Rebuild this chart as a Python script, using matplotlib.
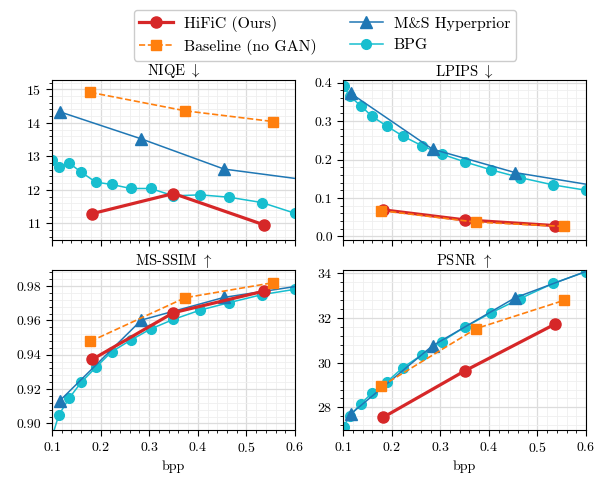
import numpy as np
import matplotlib
matplotlib.use('Agg')
import matplotlib.pyplot as plt
from matplotlib.ticker import AutoMinorLocator, MultipleLocator

plt.rcParams['font.family'] = 'serif'
plt.rcParams['font.serif'] = ['cmr10', 'DejaVu Serif']
plt.rcParams['mathtext.fontset'] = 'cm'
plt.rcParams['axes.formatter.use_mathtext'] = True
plt.rcParams['font.size'] = 10

# bpp values per method (last M&S point lies beyond the plotted range)
hific_bpp = [0.183, 0.350, 0.537]
base_bpp = [0.179, 0.374, 0.554]
ms_bpp = [0.116, 0.284, 0.454, 0.700]
bpg_bpp = [0.101, 0.114, 0.136, 0.160, 0.190, 0.223, 0.262, 0.303, 0.350, 0.405, 0.464, 0.532, 0.600]

# NIQE
hific_niqe = [11.29, 11.89, 10.95]
base_niqe = [14.91, 14.36, 14.04]
ms_niqe = [14.33, 13.52, 12.62, 12.15]
bpg_niqe = [12.89, 12.67, 12.79, 12.53, 12.23, 12.16, 12.04, 12.04, 11.82, 11.85, 11.78, 11.62, 11.30]

# LPIPS
hific_lpips = [0.069, 0.043, 0.028]
base_lpips = [0.067, 0.037, 0.026]
ms_lpips = [0.372, 0.227, 0.166, 0.115]
bpg_lpips = [0.391, 0.365, 0.340, 0.312, 0.287, 0.261, 0.236, 0.214, 0.194, 0.173, 0.153, 0.134, 0.120]

# MS-SSIM
hific_msssim = [0.9373, 0.9645, 0.9771]
base_msssim = [0.9478, 0.9732, 0.9819]
ms_msssim = [0.9132, 0.9602, 0.9734, 0.9840]
bpg_msssim = [0.893, 0.9049, 0.9150, 0.9239, 0.9326, 0.9418, 0.9485, 0.9550, 0.9606, 0.9660, 0.9703, 0.9750, 0.9781]

# PSNR
hific_psnr = [27.56, 29.63, 31.74]
base_psnr = [28.95, 31.53, 32.79]
ms_psnr = [27.71, 30.76, 32.91, 34.90]
bpg_psnr = [27.14, 27.62, 28.15, 28.65, 29.14, 29.78, 30.35, 30.95, 31.59, 32.24, 32.87, 33.55, 34.08]

panels = [
    ('NIQE $\\downarrow$', hific_niqe, base_niqe, ms_niqe, bpg_niqe, (10.5, 15.28), 1),
    ('LPIPS $\\downarrow$', hific_lpips, base_lpips, ms_lpips, bpg_lpips, (-0.0096, 0.407), 0.1),
    ('MS-SSIM $\\uparrow$', hific_msssim, base_msssim, ms_msssim, bpg_msssim, (0.8961, 0.9893), 0.02),
    ('PSNR $\\uparrow$', hific_psnr, base_psnr, ms_psnr, bpg_psnr, (26.98, 34.15), 2),
]

fig, axes = plt.subplots(2, 2, figsize=(5.95, 4.79), dpi=100, sharex=True)
fig.subplots_adjust(left=0.0874, right=0.985, top=0.833, bottom=0.102, wspace=0.198, hspace=0.1875)

for ax, (title, h, b, m, g, ylim, major) in zip(axes.flat, panels):
    ax.plot(hific_bpp, h, '-o', color='#d62728', lw=2.3, ms=8, zorder=4, label='HiFiC (Ours)')
    ax.plot(base_bpp, b, '--s', color='#ff7f0e', lw=1.2, ms=7.5, zorder=5, label='Baseline (no GAN)')
    ax.plot(ms_bpp, m, '-^', color='#1f77b4', lw=1.1, ms=8, zorder=3, label='M&S Hyperprior')
    ax.plot(bpg_bpp, g, '-o', color='#17becf', lw=1.1, ms=7, zorder=2, label='BPG')
    ax.set_title(title, fontsize=10.5, pad=3)
    ax.set_xlim(0.1, 0.6)
    ax.set_ylim(*ylim)
    ax.xaxis.set_major_locator(MultipleLocator(0.1))
    ax.yaxis.set_major_locator(MultipleLocator(major))
    ax.xaxis.set_minor_locator(AutoMinorLocator(5))
    ax.yaxis.set_minor_locator(AutoMinorLocator(5))
    ax.grid(True, which='major', color='#dcdcdc', lw=0.9)
    ax.grid(True, which='minor', color='#efefef', lw=0.6)
    ax.set_axisbelow(True)
    ax.tick_params(which='major', length=4, width=0.8, labelsize=10)
    ax.tick_params(which='minor', length=2, width=0.6)

for ax in axes[1]:
    ax.set_xlabel('bpp', fontsize=10)
axes[1, 0].yaxis.set_major_formatter(matplotlib.ticker.FormatStrFormatter('%.2f'))
axes[0, 1].yaxis.set_major_formatter(matplotlib.ticker.FormatStrFormatter('%.1f'))

handles, labels = axes[0, 0].get_legend_handles_labels()
fig.legend(handles, labels, loc='upper center', bbox_to_anchor=(0.546, 0.995), ncol=2,
           fontsize=11.4, handlelength=2.1, handletextpad=0.7, columnspacing=2.1,
           labelspacing=0.45, borderpad=0.35, framealpha=1, edgecolor='#cccccc')

fig.savefig('out.png', dpi=100)
